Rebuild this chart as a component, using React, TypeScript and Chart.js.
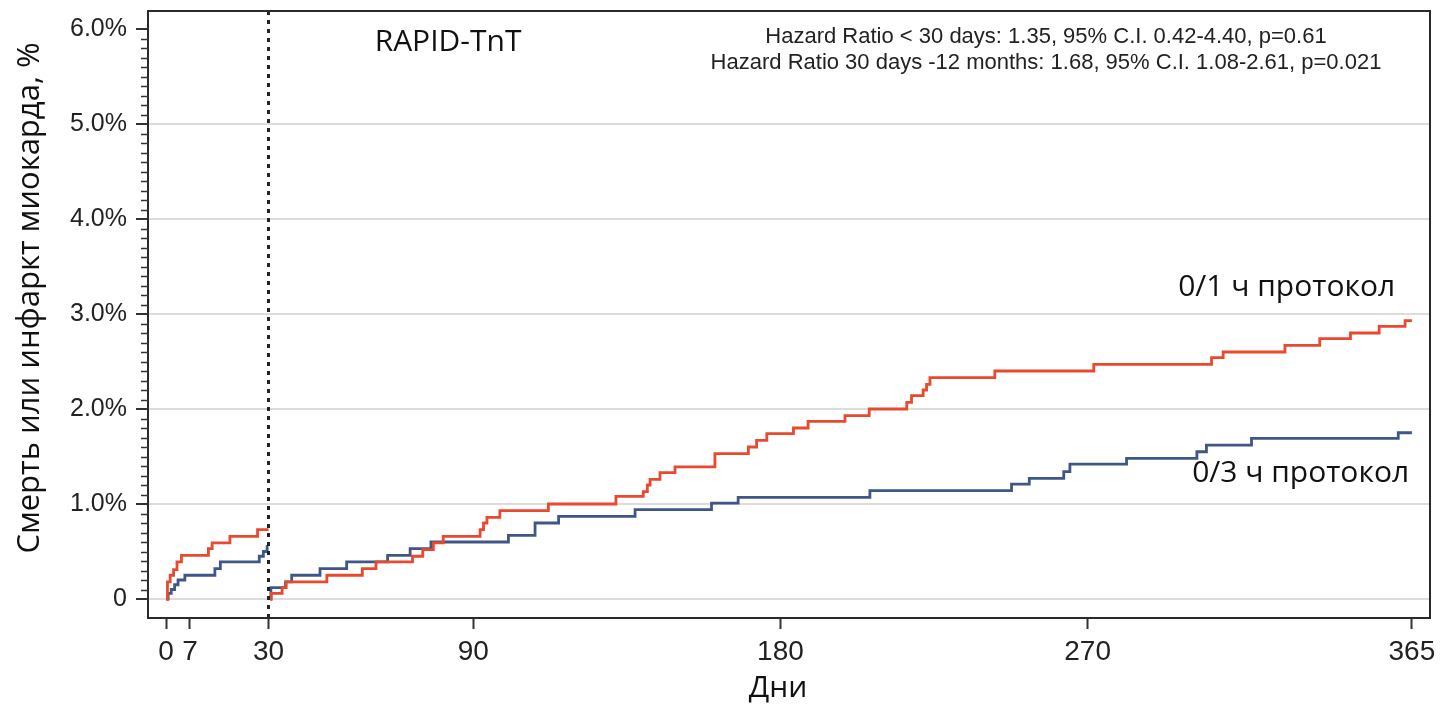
import React, { useEffect, useRef } from 'react';
import { Chart, registerables } from 'chart.js';

Chart.register(...registerables);

// ---- data (days since randomisation, cumulative event rate in %) ----
const landmarkDay = 30;

const redDaysEarly = [0, 0.4, 1.2, 2.2, 3.2, 4.5, 12.4, 13.5, 18.7, 26.8, 30];
const redValsEarly = [0, 0.18, 0.25, 0.31, 0.39, 0.46, 0.53, 0.59, 0.66, 0.73, 0.73];

const blueDaysEarly = [0, 0.6, 1.5, 2.5, 3.5, 5.5, 14.3, 15.9, 27.3, 28.5, 29.6, 30];
const blueValsEarly = [0, 0.06, 0.1, 0.15, 0.2, 0.25, 0.32, 0.39, 0.45, 0.5, 0.55, 0.55];

const redDaysLate = [
  30.5, 30.8, 34.0, 35.2, 47.1, 57.5, 61.5, 72.2, 75.2, 78.3, 81.2, 92.0, 93.0, 94.0, 97.8,
  112.0, 131.8, 139.8, 141.0, 141.8, 144.7, 149.1, 160.8, 170.6, 173.0, 176.0, 183.8, 188.1,
  198.9, 206.0, 217.0, 218.4, 221.8, 222.8, 223.8, 242.8, 271.8, 306.3, 309.7, 327.8, 338.0,
  347.0, 355.4, 363.0, 365,
];
const redValsLate = [
  0, 0.06, 0.12, 0.18, 0.25, 0.32, 0.39, 0.45, 0.52, 0.59, 0.66, 0.73, 0.8, 0.86, 0.93,
  1.0, 1.08, 1.13, 1.2, 1.26, 1.33, 1.39, 1.53, 1.6, 1.67, 1.74, 1.8, 1.87,
  1.93, 2.0, 2.07, 2.14, 2.2, 2.26, 2.33, 2.4, 2.47, 2.54, 2.6, 2.67, 2.74,
  2.8, 2.87, 2.93, 2.93,
];

const blueDaysLate = [
  30.5, 30.7, 35.0, 36.8, 45.1, 52.9, 64.9, 71.5, 77.6, 100.3, 108.1, 115.0, 137.4, 159.8,
  167.6, 206.2, 247.7, 252.9, 263.0, 264.8, 281.4, 302.0, 304.8, 318.0, 361.0, 365,
];
const blueValsLate = [
  0, 0.12, 0.18, 0.25, 0.32, 0.39, 0.46, 0.53, 0.6, 0.67, 0.8, 0.87, 0.94, 1.01,
  1.07, 1.14, 1.21, 1.27, 1.34, 1.42, 1.48, 1.55, 1.62, 1.69, 1.75, 1.75,
];

const xTicks = [0, 7, 30, 90, 180, 270, 365];
const yTicks = [0, 1, 2, 3, 4, 5, 6];

const seriesNames = ['0/1 ч протокол', '0/3 ч протокол'];
const seriesColors = ['#e8492f', '#3e5788'];
const studyTitle = 'RAPID-TnT';
const hazardLines = [
  'Hazard Ratio < 30 days: 1.35, 95% C.I. 0.42-4.40, p=0.61',
  'Hazard Ratio 30 days -12 months: 1.68, 95% C.I. 1.08-2.61, p=0.021',
];
const xTitle = 'Дни';
const yTitle = 'Смерть или инфаркт миокарда, %';

const TICK_FONT = "'Liberation Sans', Arial, Helvetica, sans-serif";
const RU_FONT = "'Open Sans', 'Noto Sans', sans-serif";

function toPoints(dE: number[], vE: number[], dL: number[], vL: number[]) {
  return [
    ...dE.map((d, i) => ({ x: d, y: vE[i] as number | null })),
    { x: landmarkDay, y: null },
    ...dL.map((d, i) => ({ x: d, y: vL[i] as number | null })),
  ];
}

const overlayPlugin = {
  id: 'overlay',
  afterDatasetsDraw(chart: any) {
    const { ctx, chartArea: a, scales } = chart;
    const x = scales.x;
    const y = scales.y;
    ctx.save();

    // landmark dotted line
    const lx = x.getPixelForValue(landmarkDay);
    ctx.setLineDash([4, 5]);
    ctx.lineWidth = 3;
    ctx.strokeStyle = '#222';
    ctx.beginPath();
    ctx.moveTo(lx, a.top);
    ctx.lineTo(lx, a.bottom + 4);
    ctx.stroke();
    ctx.setLineDash([]);

    // frame
    ctx.lineWidth = 2;
    ctx.strokeStyle = '#2a2a2a';
    ctx.strokeRect(a.left, a.top, a.right - a.left, a.bottom - a.top);

    // minor ticks on y axis
    ctx.lineWidth = 1.5;
    ctx.strokeStyle = '#333';
    ctx.beginPath();
    for (let i = 0; i <= 60; i++) {
      if (i % 10 === 0) continue;
      const py = Math.round(y.getPixelForValue(i / 10)) + 0.5;
      ctx.moveTo(a.left - 7, py);
      ctx.lineTo(a.left, py);
    }
    ctx.stroke();

    // annotations
    ctx.fillStyle = '#111';
    ctx.textAlign = 'center';
    ctx.textBaseline = 'middle';
    ctx.font = `30px ${RU_FONT}`;
    ctx.fillText(studyTitle, x.getPixelForValue(82.6), y.getPixelForValue(5.86));

    ctx.fillStyle = '#222';
    ctx.font = `22px ${TICK_FONT}`;
    ctx.fillText(hazardLines[0], x.getPixelForValue(257.8), y.getPixelForValue(5.92));
    ctx.fillText(hazardLines[1], x.getPixelForValue(257.8), y.getPixelForValue(5.645));

    ctx.fillStyle = '#111';
    ctx.font = `30px ${RU_FONT}`;
    ctx.fillText(seriesNames[0], x.getPixelForValue(328.3), y.getPixelForValue(3.28));
    ctx.fillText(seriesNames[1], x.getPixelForValue(332.4), y.getPixelForValue(1.32));

    // axis titles
    ctx.fillStyle = '#111';
    ctx.font = `30px ${RU_FONT}`;
    ctx.fillText(xTitle, 778, 688);
    ctx.translate(30, 298);
    ctx.rotate(-Math.PI / 2);
    ctx.font = `31px ${RU_FONT}`;
    ctx.fillText(yTitle, 0, 0);

    ctx.restore();
  },
};

export default function App() {
  const canvasRef = useRef<HTMLCanvasElement | null>(null);

  useEffect(() => {
    const canvas = canvasRef.current;
    if (!canvas) return;
    const chart = new Chart(canvas, {
      type: 'line',
      data: {
        datasets: [
          {
            label: seriesNames[0],
            data: toPoints(redDaysEarly, redValsEarly, redDaysLate, redValsLate) as any,
            borderColor: seriesColors[0],
            backgroundColor: seriesColors[0],
            borderWidth: 2.8,
            pointRadius: 0,
            stepped: 'before',
            spanGaps: false,
            fill: false,
          },
          {
            label: seriesNames[1],
            data: toPoints(blueDaysEarly, blueValsEarly, blueDaysLate, blueValsLate) as any,
            borderColor: seriesColors[1],
            backgroundColor: seriesColors[1],
            borderWidth: 2.8,
            pointRadius: 0,
            stepped: 'before',
            spanGaps: false,
            fill: false,
          },
        ],
      },
      options: {
        animation: false,
        responsive: true,
        maintainAspectRatio: false,
        layout: { padding: { top: 11, right: 10, left: 0, bottom: 0 } },
        plugins: {
          legend: { display: false },
          tooltip: { enabled: false },
        },
        scales: {
          x: {
            type: 'linear',
            min: -5.3,
            max: 370.3,
            afterBuildTicks: (s: any) => {
              s.ticks = xTicks.map((v) => ({ value: v }));
            },
            afterFit: (s: any) => {
              s.height = 86;
              s.paddingLeft = 0;
              s.paddingRight = 0;
            },
            ticks: {
              autoSkip: false,
              maxRotation: 0,
              minRotation: 0,
              padding: 6,
              color: '#222',
              font: { family: TICK_FONT, size: 28 },
              callback: (v: any) => String(v),
            },
            grid: {
              drawOnChartArea: false,
              drawTicks: true,
              tickLength: 11,
              tickColor: '#333',
              tickWidth: 2,
            },
            border: { display: false },
          },
          y: {
            type: 'linear',
            min: -0.2,
            max: 6.19,
            afterBuildTicks: (s: any) => {
              s.ticks = yTicks.map((v) => ({ value: v }));
            },
            afterFit: (s: any) => {
              s.width = 148;
              s.paddingTop = 0;
              s.paddingBottom = 0;
            },
            ticks: {
              padding: 9,
              color: '#222',
              font: { family: TICK_FONT, size: 25 },
              callback: (v: any) => (v === 0 ? '0' : Number(v).toFixed(1) + '%'),
            },
            grid: {
              color: (c: any) => (c.tick && c.tick.value === 6 ? 'rgba(0,0,0,0)' : '#dcdcdc'),
              lineWidth: 2,
              drawTicks: true,
              tickLength: 12,
              tickColor: '#333',
              tickWidth: 2,
            },
            border: { display: false },
          },
        },
      },
      plugins: [overlayPlugin],
    });
    return () => chart.destroy();
  }, []);

  return (
    <div style={{ position: 'absolute', left: 0, top: 0, width: 1440, height: 704, background: '#fff' }}>
      <canvas ref={canvasRef} />
    </div>
  );
}
